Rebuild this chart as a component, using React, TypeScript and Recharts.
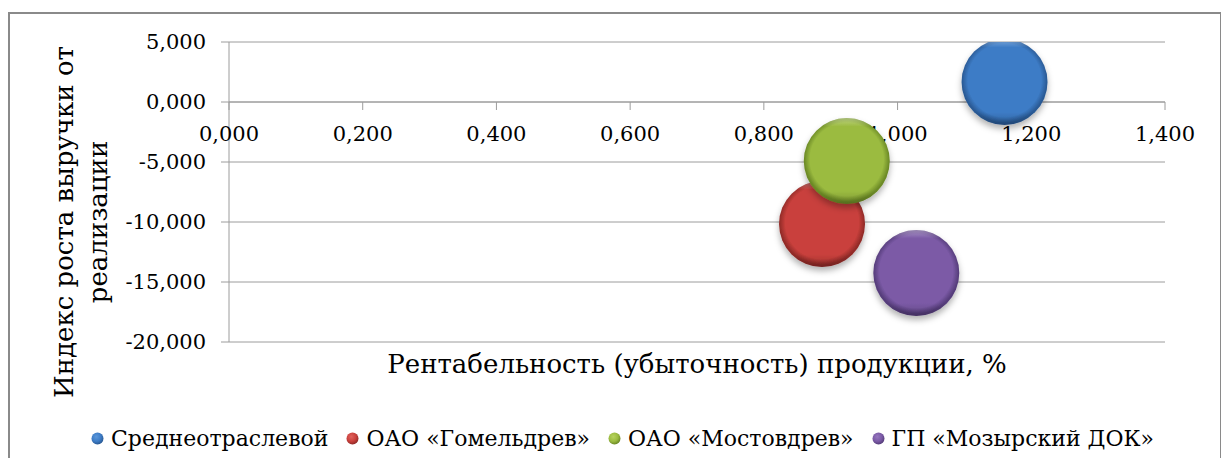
import React from "react";
import * as Recharts from "recharts";
import {
  ScatterChart,
  Scatter,
  XAxis,
  YAxis,
  ZAxis,
  CartesianGrid,
  Legend,
  ReferenceLine,
  ReferenceDot,
} from "recharts";

// Bubble chart: profitability vs revenue growth index, equal bubble sizes.
const seriesNames = ["Среднеотраслевой", "ОАО «Гомельдрев»", "ОАО «Мостовдрев»", "ГП «Мозырский ДОК»"];
const profitability = [1.16, 0.887, 0.924, 1.028];
const revenueGrowth = [1.67, -10.17, -4.92, -14.25];
const bubbleSize = [1, 1, 1, 1];

const xTicks = [0, 0.2, 0.4, 0.6, 0.8, 1.0, 1.2, 1.4];
const yTicks = [-20, -15, -10, -5, 0, 5];

// base / light / dark tones for the 3D bubble look
const palette = [
  { base: "#3d7cc6", light: "#5b97db", dark: "#2a5a95" },
  { base: "#c9403c", light: "#e0625d", dark: "#922b28" },
  { base: "#9bbb40", light: "#b7d35e", dark: "#6c8a26" },
  { base: "#7b5aa6", light: "#9677bf", dark: "#563d7b" },
];

const FONT = "'DejaVu Serif', serif";
const GRID = "#9c9c9c";

const fmt = (v: number) => v.toFixed(3).replace(".", ",");

// clip bubbles at the top of the plot area, like the original
function PlotClip() {
  const R: any = Recharts;
  const area = R.usePlotArea ? R.usePlotArea() : null;
  if (!area) return null;
  return (
    <defs>
      <clipPath id="plotClip">
        <rect x={area.x - 200} y={area.y} width={area.width + 400} height={area.height + 300} />
      </clipPath>
    </defs>
  );
}

function Bubble(props: any) {
  const { cx, cy, width, size, fill } = props;
  const r = width ? width / 2 : Math.sqrt(size / Math.PI);
  return (
    <g clipPath="url(#plotClip)">
      <g filter="url(#bubbleShadow)">
        <circle cx={cx} cy={cy} r={r} fill={fill} />
        <circle cx={cx} cy={cy} r={r} fill="url(#bubbleShine)" />
      </g>
    </g>
  );
}

function XTick({ cx, cy, text }: any) {
  return (
    <g>
      <line x1={cx} y1={cy} x2={cx} y2={cy + 8} stroke={GRID} />
      <text x={cx} y={cy + 32} dy="0.355em" textAnchor="middle" fontSize={21} fontFamily={FONT} fill="#000">
        {text}
      </text>
    </g>
  );
}

const renderLegend = ({ payload }: any) => {
  const items = [...(payload || [])].sort(
    (a: any, b: any) => seriesNames.indexOf(a.value) - seriesNames.indexOf(b.value)
  );
  return (
    <div
      style={{
        height: 40,
        display: "flex",
        justifyContent: "center",
        alignItems: "center",
        fontFamily: FONT,
        fontSize: 22,
        color: "#000",
        paddingLeft: 15,
      }}
    >
      {items.map((e: any, i: number) => (
        <div key={e.value} style={{ display: "flex", alignItems: "center", marginRight: i < items.length - 1 ? 18 : 0 }}>
          <svg width={13} height={13} style={{ marginRight: 7 }}>
            <circle cx={6.5} cy={6.5} r={6} fill={`url(#legendBall${seriesNames.indexOf(e.value)})`} />
          </svg>
          <span style={{ whiteSpace: "nowrap" }}>{e.value}</span>
        </div>
      ))}
    </div>
  );
};

export default function App() {
  const series = seriesNames.map((name, i) => ({
    name,
    data: [{ x: profitability[i], y: revenueGrowth[i], z: bubbleSize[i] }],
  }));

  return (
    <div style={{ paddingTop: 4, width: 1214, height: 446 }}>
      <div
        style={{
          width: 1210,
          height: 444,
          borderTop: "2px solid #8a8a8a",
          borderLeft: "2px solid #8a8a8a",
          borderRight: "2px solid #8a8a8a",
          background: "#fff",
        }}
      >
        <ScatterChart width={1210} height={444} margin={{ top: 28, right: 55, bottom: 0, left: 0 }}>
          <defs>
            <filter id="bubbleShadow" x="-30%" y="-30%" width="160%" height="170%">
              <feDropShadow dx="0" dy="4" stdDeviation="3" floodColor="#000" floodOpacity="0.3" />
            </filter>
            <linearGradient id="bubbleShine" x1="0" y1="0" x2="0" y2="1">
              <stop offset="0" stopColor="#fff" stopOpacity="0.35" />
              <stop offset="0.1" stopColor="#fff" stopOpacity="0" />
              <stop offset="0.85" stopColor="#000" stopOpacity="0" />
              <stop offset="1" stopColor="#000" stopOpacity="0.2" />
            </linearGradient>
            {palette.map((c, i) => (
              <radialGradient key={`b${i}`} id={`bubble${i}`} cx="50%" cy="48%" r="52%">
                <stop offset="0" stopColor={c.base} />
                <stop offset="0.82" stopColor={c.base} />
                <stop offset="0.95" stopColor={c.dark} />
                <stop offset="1" stopColor={c.dark} />
              </radialGradient>
            ))}
            {palette.map((c, i) => (
              <radialGradient key={`l${i}`} id={`legendBall${i}`} cx="40%" cy="35%" r="65%">
                <stop offset="0" stopColor={c.light} />
                <stop offset="0.6" stopColor={c.base} />
                <stop offset="1" stopColor={c.dark} />
              </radialGradient>
            ))}
          </defs>
          <PlotClip />
          <CartesianGrid vertical={false} stroke={GRID} />
          <XAxis
            type="number"
            dataKey="x"
            domain={[0, 1.4]}
            ticks={xTicks}
            tick={false}
            tickLine={false}
            axisLine={false}
            height={76}
            label={{
              content: (p: any) => {
                const vb = p.viewBox;
                return (
                  <text x={vb.x + vb.width / 2} y={vb.y + 31} textAnchor="middle" fontSize={26} fontFamily={FONT} fill="#000">
                    Рентабельность (убыточность) продукции, %
                  </text>
                );
              },
            }}
          />
          <YAxis
            type="number"
            dataKey="y"
            domain={[-20, 5]}
            ticks={yTicks}
            width={219}
            tickSize={8}
            tickMargin={15}
            stroke={GRID}
            tickFormatter={fmt}
            tick={{ fill: "#000", fontSize: 21, fontFamily: FONT }}
            label={{
              content: (p: any) => {
                const vb = p.viewBox;
                const cy = vb.y + vb.height / 2 + 30;
                return (
                  <g fontSize={26} fontFamily={FONT} fill="#000">
                    <text x={vb.x + 63} y={cy} textAnchor="middle" transform={`rotate(-90, ${vb.x + 63}, ${cy})`}>
                      Индекс роста выручки от
                    </text>
                    <text x={vb.x + 97} y={cy} textAnchor="middle" transform={`rotate(-90, ${vb.x + 97}, ${cy})`}>
                      реализации
                    </text>
                  </g>
                );
              },
            }}
          />
          <ZAxis type="number" dataKey="z" range={[5809, 5809]} />
          <ReferenceLine y={0} stroke={GRID} />
          {xTicks.map((t) => (
            <ReferenceDot
              key={t}
              x={t}
              y={0}
              r={0}
              shape={(p: any) => <XTick {...p} text={fmt(t)} />}
            />
          ))}
          <Legend verticalAlign="bottom" content={renderLegend} wrapperStyle={{ left: 0, width: 1210 }} />
          {series.map((s, i) => (
            <Scatter
              key={s.name}
              name={s.name}
              data={s.data}
              fill={`url(#bubble${i})`}
              shape={Bubble}
              isAnimationActive={false}
            />
          ))}
        </ScatterChart>
      </div>
    </div>
  );
}
